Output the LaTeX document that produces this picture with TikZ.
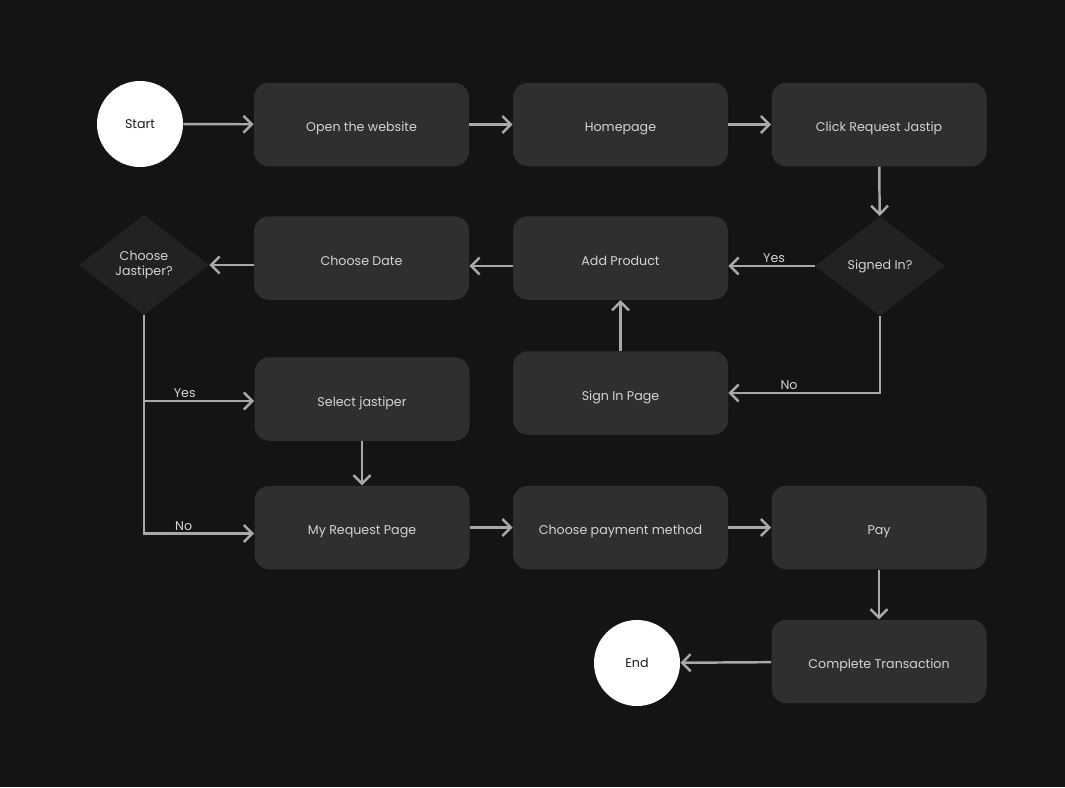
\documentclass[tikz,border=0pt]{standalone}
\usepackage{fontspec}
\setmainfont{Poppins}
\usepackage{tikz}
\usetikzlibrary{arrows.meta,positioning,shapes.geometric,calc,backgrounds}
\definecolor{fcbg}{HTML}{141414}
\definecolor{fcbox}{HTML}{2F2F2F}
\definecolor{fcdiam}{HTML}{222222}
\definecolor{fcline}{HTML}{A8A8A8}
\definecolor{fctext}{HTML}{D4D4D4}
\definecolor{fcdark}{HTML}{1A1A1A}

\begin{document}
\begin{tikzpicture}[
  x=0.2mm,y=-0.2mm,
  box/.style={fill=fcbox,rounded corners=3mm,minimum width=43mm,
              minimum height=16.7mm,align=center,text=fctext,
              font=\fontsize{7.2}{9}\selectfont,inner sep=2pt,
              text height=1.5ex,text depth=0pt},
  term/.style={circle,fill=white,minimum size=17.2mm,text=fcdark,
              font=\fontsize{7.2}{9}\selectfont,inner sep=0pt},
  choice/.style={diamond,fill=fcdiam,minimum width=26mm,minimum height=20mm,
              aspect=1.3,inner sep=0pt,align=center,text=fctext,
              font=\fontsize{7.2}{9}\selectfont},
  lbl/.style={text=fctext,font=\fontsize{7.2}{9}\selectfont,inner sep=1pt},
  arrow/.style={-{Straight Barb[length=1.7mm,width=3.4mm]},draw=fcline,
              line width=1.4pt}]
\fill[fcbg] (0,0) rectangle (1065,787);
\useasboundingbox (0,0) rectangle (1065,787);

% first row
\node[term] (start) at (140,124) {Start};
\node[box] (open) at (361.5,124.5) {Open the website};
\node[box] (home) at (620.5,124.5) {Homepage};
\node[box] (click) at (879,124.5) {Click Request Jastip};
\draw[arrow] (start) -- (open);
\draw[arrow] (open) -- (home);
\draw[arrow] (home) -- (click);

% second row
\node[choice] (signed) at (880,266) {Signed In?};
\node[box] (add) at (620.5,258) {Add Product};
\node[box] (date) at (361.5,258) {Choose Date};
\node[choice] (jastiper) at (144,265) {Choose\\Jastiper?};
\node[box] (signin) at (620.5,393) {Sign In Page};
\draw[arrow] (click) -- (signed);
\draw[arrow] (signed.west) -- node[lbl,above,pos=0.47] {Yes} (add.east |- signed.west);
\draw[arrow] (signed.south) |- node[lbl,above,pos=0.8] {No} (signin.east);
\draw[arrow] (signin) -- (add);
\draw[arrow] (add.west |- signed.west) -- (date.east |- signed.west);
\draw[arrow] (date.west |- jastiper.east) -- (jastiper.east);

% jastiper branch
\node[box] (select) at (362,399) {Select jastiper};
\node[box] (myreq) at (362,527.5) {My Request Page};
\coordinate (split) at (144,401);
\draw[draw=fcline,line width=1.4pt] (jastiper.south) -- (split);
\draw[arrow] (split) -- node[lbl,above,pos=0.37] {Yes} (select.west |- split);
\draw[arrow] (split) |- node[lbl,above,pos=0.68] {No} ($(myreq.west)+(0,6)$);
\draw[arrow] (select) -- (myreq);

% last rows
\node[box] (payment) at (620.5,527.5) {Choose payment method};
\node[box] (pay) at (879,527.5) {Pay};
\node[box] (complete) at (879,661.5) {Complete Transaction};
\node[term] (finish) at (637,663) {End};
\draw[arrow] (myreq) -- (payment);
\draw[arrow] (payment) -- (pay);
\draw[arrow] (pay) -- (complete);
\draw[arrow] (complete) -- (finish);
\end{tikzpicture}
\end{document}
